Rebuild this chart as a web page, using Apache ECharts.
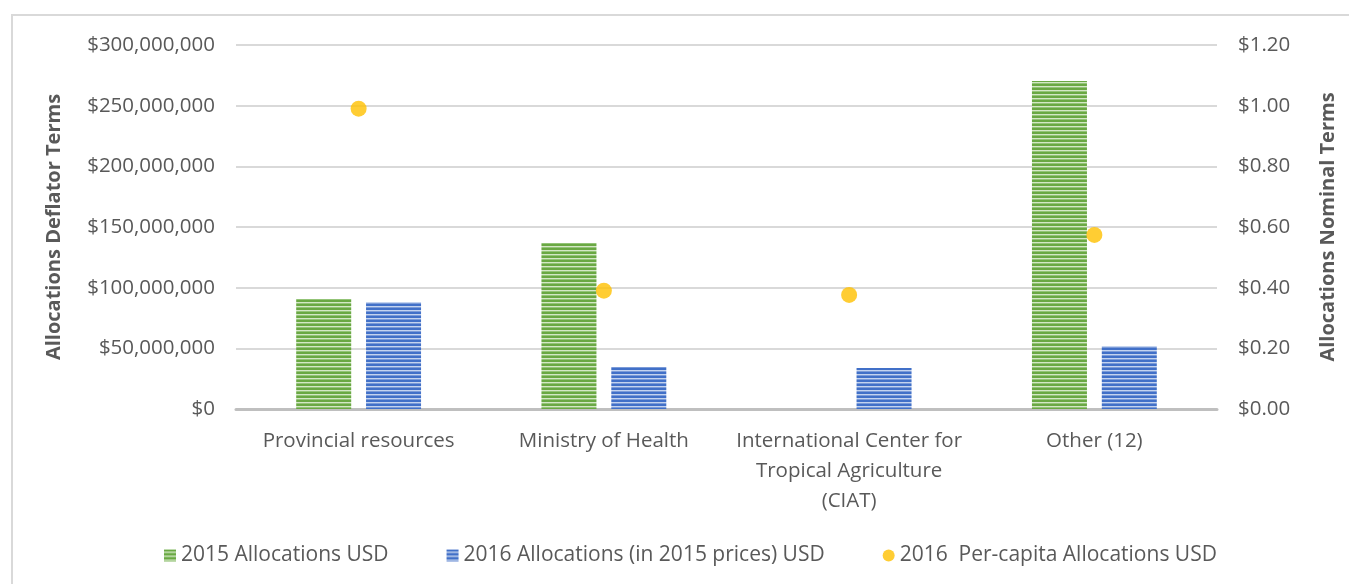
<!DOCTYPE html>
<html>
<head>
<meta charset="utf-8">
<script src="https://cdn.jsdelivr.net/npm/echarts@6/dist/echarts.min.js"></script>
<style>
    html, body { margin: 0; padding: 0; background: #fff; }
    #chart { width: 1349px; height: 584px; }
</style>
</head>
<body>
<div id="chart"></div>
<script>
const categories = ['Provincial resources', 'Ministry of Health', 'International Center for\nTropical Agriculture\n(CIAT)', 'Other (12)'];
const alloc2015 = [90700000, 136800000, null, 270300000];
const alloc2016 = [88200000, 34600000, 33800000, 51900000];
const perCapita2016 = [0.99, 0.39, 0.376, 0.574];
const leftTicks = { min: 0, max: 300000000, interval: 50000000 };
const rightTicks = { min: 0, max: 1.2, interval: 0.2 };

// striped fill like the office chart pattern
function stripes(dark, light, mid) {
    const c = document.createElement('canvas');
    c.width = 4;
    c.height = 4;
    const ctx = c.getContext('2d');
    const rows = [dark, dark, light, mid];
    rows.forEach((col, i) => {
        ctx.fillStyle = col;
        ctx.fillRect(0, i, 4, 1);
    });
    return { image: c, repeat: 'repeat' };
}

const greenFill = stripes('#6aa843', '#d4e7c6', '#93c477');
const blueFill = stripes('#4170c8', '#c3d3ef', '#7b9bd8');

const fmtMoney = v => '$' + Math.round(v).toLocaleString('en-US');
const txt = '#595959';
const font = '"Open Sans", "Liberation Sans", sans-serif';
const fs = 20.5;

const chart = echarts.init(document.getElementById('chart'));
chart.setOption({
    animation: false,
    textStyle: { fontFamily: font, color: txt },
    graphic: [{
        type: 'rect',
        shape: { x: 12, y: 15, width: 1400, height: 700 },
        style: { fill: 'none', stroke: '#d9d9d9', lineWidth: 2 },
        silent: true
    }],
    grid: { left: 236, right: 132, top: 45, bottom: 175 },
    legend: {
        left: 159,
        top: 540,
        itemWidth: 12,
        itemHeight: 12,
        itemGap: 58,
        itemTextGap: 7,
        textStyle: { fontSize: 21, color: txt, fontFamily: font },
        data: [
            { name: '2015 Allocations USD', icon: 'rect' },
            { name: '2016 Allocations (in 2015 prices) USD', icon: 'rect' },
            { name: '2016  Per-capita Allocations USD', icon: 'circle' }
        ]
    },
    xAxis: {
        type: 'category',
        data: categories,
        axisLine: { lineStyle: { color: '#bfbfbf', width: 3 } },
        axisTick: { show: false },
        axisLabel: { interval: 0, fontSize: fs, color: txt, lineHeight: 30, margin: 17 }
    },
    yAxis: [{
        type: 'value',
        min: leftTicks.min,
        max: leftTicks.max,
        interval: leftTicks.interval,
        name: 'Allocations Deflator Terms',
        nameLocation: 'middle',
        nameGap: 172,
        nameTextStyle: { fontSize: 20, fontWeight: 'bold', color: txt },
        axisLine: { show: false },
        axisTick: { show: false },
        axisLabel: { fontSize: fs, color: txt, margin: 21, formatter: fmtMoney },
        splitLine: { lineStyle: { color: '#d9d9d9', width: 2 } }
    }, {
        type: 'value',
        min: rightTicks.min,
        max: rightTicks.max,
        interval: rightTicks.interval,
        name: 'Allocations Nominal Terms',
        nameLocation: 'middle',
        nameGap: 101,
        nameTextStyle: { fontSize: 20, fontWeight: 'bold', color: txt },
        axisLine: { show: false },
        axisTick: { show: false },
        axisLabel: { fontSize: fs, color: txt, margin: 21, formatter: v => '$' + v.toFixed(2) },
        splitLine: { show: false }
    }],
    series: [{
        name: '2015 Allocations USD',
        type: 'bar',
        data: alloc2015,
        barWidth: 55,
        barGap: '27%',
        itemStyle: { color: greenFill }
    }, {
        name: '2016 Allocations (in 2015 prices) USD',
        type: 'bar',
        data: alloc2016,
        barWidth: 55,
        itemStyle: { color: blueFill }
    }, {
        name: '2016  Per-capita Allocations USD',
        type: 'scatter',
        yAxisIndex: 1,
        data: perCapita2016,
        symbolSize: 16,
        itemStyle: { color: '#ffc000' }
    }]
});
</script>
</body>
</html>
